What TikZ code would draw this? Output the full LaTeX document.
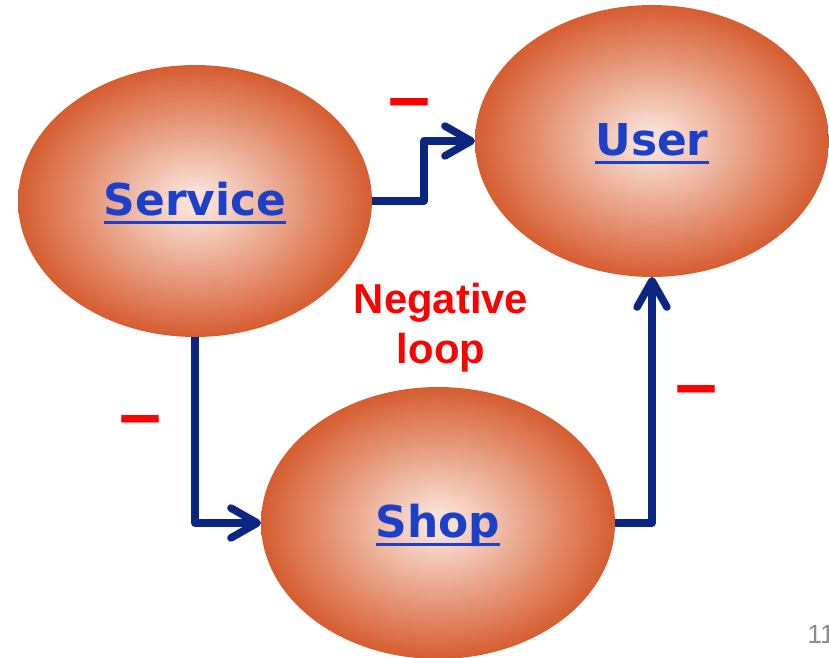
\documentclass[tikz,border=0pt]{standalone}
\usepackage{fontspec}
\setmainfont{Liberation Sans}
\newfontfamily\verdanalike{DejaVu Sans}
\usetikzlibrary{shapes.geometric,arrows.meta}

\definecolor{orbin}{RGB}{249,224,214}
\definecolor{orbout}{RGB}{214,93,48}
\definecolor{linkblue}{RGB}{28,64,200}
\definecolor{navy}{RGB}{10,38,128}

\pgfdeclareradialshading{orb}{\pgfpoint{0bp}{0bp}}{color(0bp)=(orbin); color(2bp)=(orbin); color(25bp)=(orbout); color(50bp)=(orbout)}

\newlength\lnkwd
\newcommand\lnk[1]{\settowidth\lnkwd{#1}\rlap{\rule[-0.18em]{\lnkwd}{0.07em}}#1}

\tikzset{
	orb/.style={ellipse, shading=orb, minimum width=7.08cm, minimum height=5.44cm, inner sep=0pt, outer sep=0pt, text=linkblue, font=\verdanalike\bfseries\fontsize{25}{25}\selectfont, text height=22pt, text depth=5pt},
	link/.style={draw=navy, line width=4.3pt, line join=round, -{Straight Barb[length=15pt, width=17pt, round]}},
	minussign/.style={text=red, font=\bfseries\fontsize{43}{43}\selectfont, inner sep=0pt, text height=22.8pt, text depth=0pt},
	loopnote/.style={text=red, font=\bfseries\fontsize{23.8}{28.3}\selectfont, align=center, inner sep=0pt},
	pagenum/.style={anchor=base west, text=black!45, font=\fontsize{15}{15}\selectfont, inner sep=0pt}
}

\begin{document}
\begin{tikzpicture}[x=0.02cm,y=-0.02cm]
	\useasboundingbox (0,0) rectangle (829,658);
	% the three balls
	\node[orb] (service) at (195,201) {\lnk{Service}};
	\node[orb] (user) at (652,141) {\lnk{User}};
	\node[orb] (shop) at (438,523) {\lnk{Shop}};
	% links
	\draw[link] (service.east) -- ++(52,0) |- (user.west);
	\draw[link] (service.south) |- (shop.west);
	\draw[link] (shop.east) -| (user.south);
	% signs
	\node[minussign] (minusA) at (410,102) {–};
	\node[minussign] (minusB) at (141,419) {–};
	\node[minussign] (minusC) at (697,389) {–};
	\node[loopnote] (negloop) at (441,328) {Negative\\loop};
	\node[pagenum] (page) at (807,643) {11};
\end{tikzpicture}
\end{document}
